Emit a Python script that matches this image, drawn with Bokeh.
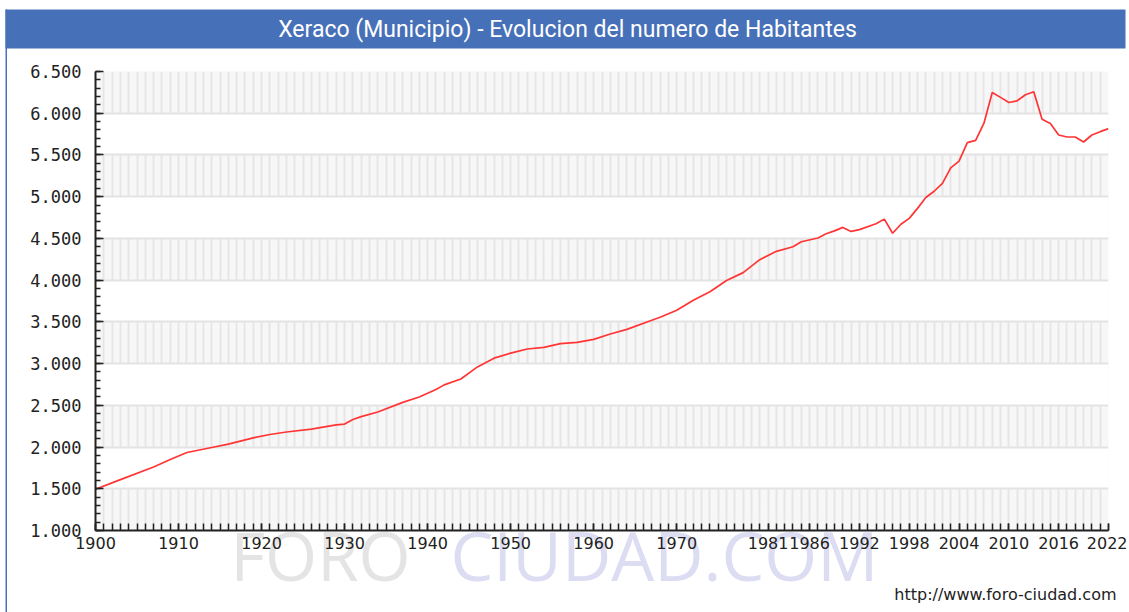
from bokeh.plotting import figure
from bokeh.models import FixedTicker, Range1d
from bokeh.core.properties import value
from bokeh.embed import file_html
from bokeh.resources import INLINE

TITLE = "Xeraco (Municipio) - Evolucion del numero de Habitantes"

years = [1900, 1903, 1907, 1909, 1911, 1914, 1916, 1919, 1921, 1923, 1926, 1929,
         1930, 1931, 1932, 1934, 1937, 1939, 1941, 1942, 1944, 1946, 1948, 1950,
         1952, 1954, 1956, 1958, 1960, 1962, 1964, 1967, 1968, 1970, 1972, 1974,
         1976, 1978, 1980, 1982, 1984, 1985, 1987, 1988, 1989, 1990, 1991, 1992,
         1994, 1995, 1996, 1997, 1998, 1999, 2000, 2001, 2002, 2003, 2004, 2005,
         2006, 2007, 2008, 2009, 2010, 2011, 2012, 2013, 2014, 2015, 2016, 2017,
         2018, 2019, 2020, 2021, 2022]
habitantes = [1495, 1610, 1760, 1850, 1935, 1995, 2035, 2110, 2150, 2180, 2215, 2265,
              2275, 2330, 2365, 2420, 2535, 2600, 2690, 2745, 2815, 2960, 3065, 3125,
              3175, 3195, 3240, 3255, 3290, 3355, 3410, 3520, 3555, 3640, 3760, 3860,
              3995, 4090, 4245, 4345, 4400, 4460, 4505, 4555, 4590, 4632, 4584, 4605,
              4675, 4731, 4562, 4670, 4740, 4860, 4990, 5065, 5160, 5345, 5426, 5647,
              5675, 5880, 6249, 6190, 6129, 6149, 6221, 6257, 5928, 5876, 5739, 5715,
              5715, 5655, 5739, 5779, 5815]

x_label_years = [1900, 1910, 1920, 1930, 1940, 1950, 1960, 1970, 1981, 1986,
                 1992, 1998, 2004, 2010, 2016, 2022]
all_years = list(range(1900, 2023))
y_ticks = [1000, 1500, 2000, 2500, 3000, 3500, 4000, 4500, 5000, 5500, 6000, 6500]
y_labels = ["1.000", "1.500", "2.000", "2.500", "3.000", "3.500", "4.000",
            "4.500", "5.000", "5.500", "6.000", "6.500"]
y_minor = list(range(1000, 6600, 100))

WM1 = "FORO"
WM2 = "CIUDAD.COM"
URL = "http://www.foro-ciudad.com"

W, H = 1127, 610
DH = 612
BLUE = "#4670b8"

# ---------------- decoration layer (header bar, border, watermark, url) ----------
d = figure(width=W, height=DH, x_range=Range1d(0, W), y_range=Range1d(DH, 0),
           output_backend="svg", toolbar_location=None,
           x_axis_location=None, y_axis_location=None,
           min_border=0, outline_line_color=None,
           background_fill_color="white", border_fill_color="white")
d.grid.visible = False
d.quad(left=[5], right=[1125], top=[9], bottom=[48], fill_color=BLUE, line_color=None)
d.quad(left=[5], right=[6.5], top=[9], bottom=[DH + 2], fill_color=BLUE, line_color=None)
d.text(x=[567], y=[29], text=[TITLE], text_align="center", text_baseline="middle",
       text_color="white", text_font=value("Roboto"), text_font_size="23px")
d.text(x=[230], y=[554], text=[WM1], text_align="left", text_baseline="middle",
       text_color="#e4e4e4", text_font=value("Open Sans"), text_font_size="67px")
d.text(x=[450], y=[554], text=[WM2], text_align="left", text_baseline="middle",
       text_color="#dcdcf2", text_font=value("Open Sans"), text_font_size="68px")
d.text(x=[1116], y=[594], text=[URL], text_align="right", text_baseline="middle",
       text_color="#222222", text_font=value("DejaVu Sans"), text_font_size="16px")
d.styles = {"position": "absolute", "left": "0px", "top": "0px", "z-index": "0"}

# ---------------- main chart ----------------
L, T = 95, 71
R = W - 1108
B = H - 530
p = figure(width=W, height=H, x_range=Range1d(1900, 2022), y_range=Range1d(1000, 6500),
           output_backend="svg", toolbar_location=None,
           min_border_left=L, min_border_right=R, min_border_top=T, min_border_bottom=B,
           background_fill_color="#f7f7f7", border_fill_alpha=0,
           outline_line_color=None)

p.xgrid.ticker = FixedTicker(ticks=all_years)
p.xgrid.grid_line_color = "#e6e6e6"
p.xgrid.grid_line_width = 2
p.ygrid.ticker = FixedTicker(ticks=y_ticks)
p.ygrid.grid_line_color = "#e3e3e3"
p.ygrid.grid_line_width = 2
p.ygrid.band_fill_color = "white"
p.ygrid.band_fill_alpha = 1.0

xa = p.xaxis[0]
xa.ticker = FixedTicker(ticks=x_label_years, minor_ticks=all_years)
xa.major_tick_in = 7
xa.major_tick_out = 0
xa.minor_tick_in = 7
xa.minor_tick_out = 0
xa.axis_line_width = 2
xa.axis_line_color = "#222222"
xa.major_tick_line_color = "#222222"
xa.minor_tick_line_color = "#222222"
xa.major_tick_line_width = 1.5
xa.minor_tick_line_width = 1.5
xa.major_label_text_font = "DejaVu Sans"
xa.major_label_text_font_size = "16px"
xa.major_label_text_color = "#222222"
xa.major_label_standoff = 6

ya = p.yaxis[0]
ya.ticker = FixedTicker(ticks=y_ticks, minor_ticks=y_minor)
ya.major_label_overrides = dict(zip(y_ticks, y_labels))
ya.major_tick_in = 8
ya.major_tick_out = 0
ya.minor_tick_in = 5
ya.minor_tick_out = 0
ya.axis_line_width = 2
ya.axis_line_color = "#222222"
ya.major_tick_line_color = "#222222"
ya.minor_tick_line_color = "#222222"
ya.major_tick_line_width = 1.5
ya.minor_tick_line_width = 1.5
ya.major_label_text_font = "DejaVu Sans Mono"
ya.major_label_text_font_size = "17px"
ya.major_label_text_color = "#222222"
ya.major_label_standoff = 14

p.line(years, habitantes, line_color="#ff3535", line_width=1.7)
p.styles = {"position": "relative", "z-index": "1"}

open("out.html", "w").write(file_html([d, p], INLINE))
